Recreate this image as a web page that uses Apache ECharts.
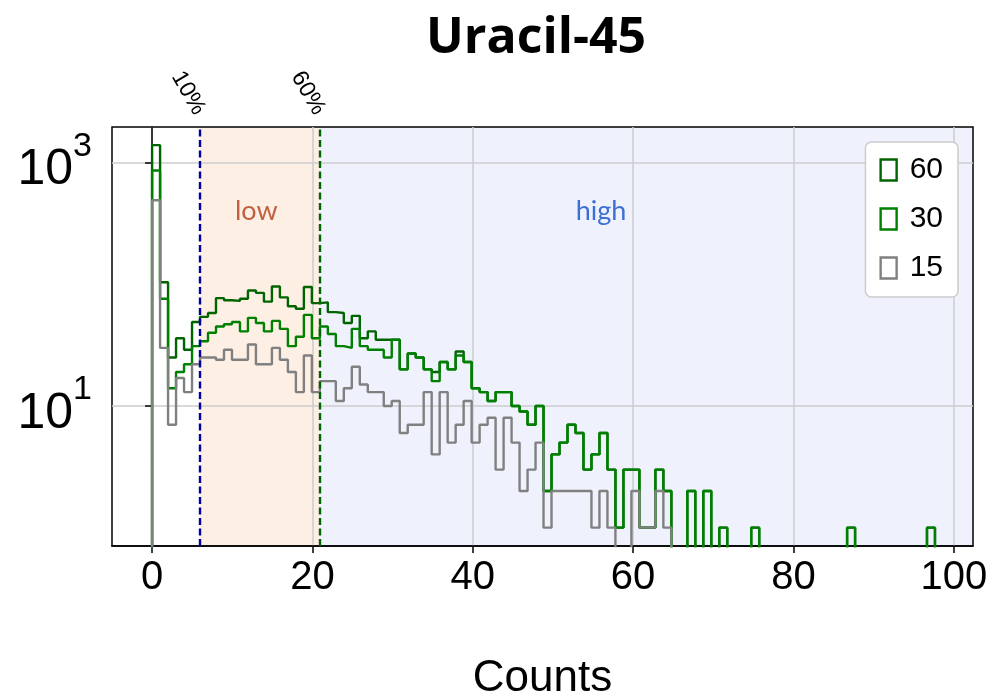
<!DOCTYPE html>
<html lang="en">
<head>
<meta charset="UTF-8">
<title>Uracil-45</title>
<script src="https://cdn.jsdelivr.net/npm/echarts@6/dist/echarts.min.js"></script>
<style>
    body { margin: 0; background: #fff; }
    #chart { width: 996px; height: 696px; }
</style>
</head>
<body>
<div id="chart"></div>
<script>
    // histogram bins start at 0, one count per bin
    const binWidth = 0.9965;
    const seriesNames = ['60', '30', '15'];
    const counts60 = [
        1390, 104, 25, 36, 29, 49, 54, 58, 77, 74,
        73, 76, 89, 85, 72, 96, 78, 66, 63, 95,
        70, 71, 59, 58, 48, 55, 36, 41, 35, 35,
        35, 20, 27, 25, 20, 19, 23, 20, 28, 23,
        14, 13, 11, 13, 13, 10, 9, 7, 10, 2,
        4, 5, 7, 6, 3, 4, 6, 3, 1, 3,
        3, 1, 1, 3, 2, 0, 0, 2, 0, 2,
        0, 1, 0, 0, 0, 1, 0, 0, 0, 0,
        0, 0, 0, 0, 0, 0, 0, 1, 0, 0,
        0, 0, 0, 0, 0, 0, 0, 1
    ];
    const counts30 = [
        860, 76, 14, 19, 22, 31, 34, 40, 45, 47,
        49, 41, 53, 48, 41, 50, 43, 31, 37, 56,
        36, 45, 39, 31, 30, 43, 31, 29, 29, 25,
        35, 20, 27, 25, 20, 16, 23, 20, 26, 23,
        14, 13, 11, 13, 13, 10, 9, 7, 10, 2,
        4, 5, 7, 6, 3, 4, 6, 3, 1, 3,
        3, 1, 1, 3, 2, 0, 0, 2, 0, 2,
        0, 1, 0, 0, 0, 1, 0, 0, 0, 0,
        0, 0, 0, 0, 0, 0, 0, 1, 0, 0,
        0, 0, 0, 0, 0, 0, 0, 1
    ];
    const counts15 = [
        490, 30, 7, 17, 13, 22, 25, 25, 24, 29,
        24, 24, 32, 22, 22, 30, 24, 19, 13, 26,
        13, 16, 16, 11, 14, 21, 15, 13, 13, 10,
        11, 6, 7, 7, 13, 4, 13, 5, 7, 11,
        5, 7, 8, 3, 8, 5, 2, 3, 5, 1,
        2, 2, 2, 2, 2, 1, 2, 1, 0, 0,
        2, 1, 1, 2, 1, 0, 0, 0, 0, 0,
        0, 0, 0, 0, 0, 0, 0, 0, 0, 0,
        0, 0, 0, 0, 0, 0, 0, 0, 0, 0,
        0, 0, 0, 0, 0, 0, 0, 0
    ];
    const thresholds = [5.95, 20.9];
    const thresholdLabels = ['10%', '60%'];
    const zoneNames = ['low', 'high'];
    const zoneLabelX = [13, 56];
    const zoneLabelY = 400;
    const xTicks = [0, 20, 40, 60, 80, 100];
    const yTicks = [10, 1000];

    const X_MIN = -5, X_MAX = 102.4;
    const Y_MIN = 0.707, Y_MAX = 1960;
    const FLOOR = 0.1; // empty bins drop below the axis
    const lineColors = ['#006400', '#008000', '#808080'];
    const thresholdColors = ['#0000a0', '#006400'];
    const zoneFills = ['#fdefe4', '#eff2fd'];
    const zoneText = ['#c0623f', '#3b6fd6'];
    const sans = 'Liberation Sans';

    // step outline like a matplotlib 'step' histogram
    function stepData(counts) {
        const n = counts.length;
        const pts = [[0, FLOOR]];
        counts.forEach((c, i) => pts.push([i * binWidth, Math.max(c, FLOOR)]));
        pts.push([n * binWidth, Math.max(counts[n - 1], FLOOR)]);
        pts.push([n * binWidth, FLOOR]);
        return pts;
    }

    const chart = echarts.init(document.getElementById('chart'));
    const allCounts = [counts60, counts30, counts15];

    const histSeries = seriesNames.map((name, i) => ({
        name: name,
        type: 'line',
        step: 'end',
        showSymbol: false,
        symbol: 'none',
        clip: true,
        color: lineColors[i],
        lineStyle: { color: lineColors[i], width: 2.4 },
        data: stepData(allCounts[i])
    }));

    const decoSeries = {
        name: 'deco',
        type: 'line',
        data: [],
        markArea: {
            silent: true,
            z: -1,
            data: [
                [{ xAxis: thresholds[0], itemStyle: { color: zoneFills[0] } }, { xAxis: thresholds[1] }],
                [{ xAxis: thresholds[1], itemStyle: { color: zoneFills[1] } }, { xAxis: X_MAX }]
            ]
        },
        markLine: {
            silent: true,
            symbol: 'none',
            label: { show: false },
            data: thresholds.map((t, i) => ({
                xAxis: t,
                lineStyle: { color: thresholdColors[i], type: [7, 3.5], width: 2.4 }
            }))
        },
        markPoint: {
            silent: true,
            symbol: 'circle',
            symbolSize: 0,
            data: zoneNames.map((z, i) => ({
                coord: [zoneLabelX[i], zoneLabelY],
                label: {
                    show: true, position: 'inside', formatter: z,
                    color: zoneText[i], fontSize: 27, fontFamily: 'Lato'
                }
            }))
        }
    };

    const option = {
        animation: false,
        backgroundColor: '#fff',
        title: {
            text: 'Uracil-45',
            left: 421,
            top: 9,
            textStyle: { fontFamily: 'Open Sans', fontWeight: 'bold', fontSize: 50, color: '#000' }
        },
        legend: {
            orient: 'vertical',
            right: 38,
            top: 142,
            data: seriesNames.map((n, i) => ({
                name: n,
                icon: 'rect',
                itemStyle: { color: 'rgba(0,0,0,0)', borderColor: lineColors[i], borderWidth: 2.4 }
            })),
            itemWidth: 16,
            itemHeight: 21,
            itemGap: 19,
            backgroundColor: '#fff',
            borderColor: '#cccccc',
            borderWidth: 1.5,
            borderRadius: 6,
            padding: [13, 15, 14, 14],
            textStyle: { fontSize: 30, fontFamily: sans, color: '#000', padding: [0, 0, 0, 8] }
        },
        grid: {
            left: 112, right: 23, top: 127, bottom: 150,
            outerBoundsMode: 'none',
            containLabel: false,
            show: true, borderColor: '#000', borderWidth: 1.5
        },
        xAxis: [{
            type: 'value',
            min: X_MIN,
            max: X_MAX,
            name: 'Counts',
            nameLocation: 'middle',
            nameGap: 111,
            nameTextStyle: { fontSize: 44, fontFamily: sans, color: '#000' },
            axisLine: { show: true, lineStyle: { color: '#000', width: 1.5 } },
            axisTick: { show: true, customValues: xTicks, length: 7, lineStyle: { color: '#000', width: 1.5 } },
            axisLabel: { customValues: xTicks, fontSize: 40, fontFamily: sans, color: '#000', margin: 12 },
            splitLine: { show: true, lineStyle: { color: '#cccccc', width: 1.5 } }
        }, {
            type: 'value',
            position: 'top',
            min: X_MIN,
            max: X_MAX,
            axisLine: { show: false },
            axisTick: { show: false },
            splitLine: { show: false },
            axisLabel: {
                customValues: thresholds,
                formatter: v => {
                    let k = 0;
                    thresholds.forEach((t, i) => { if (Math.abs(t - v) < Math.abs(thresholds[k] - v)) k = i; });
                    return thresholdLabels[k];
                },
                rotate: 60,
                margin: 14,
                fontSize: 23,
                fontFamily: sans,
                color: '#000'
            }
        }],
        yAxis: {
            type: 'log',
            min: Y_MIN,
            max: Y_MAX,
            axisLine: { show: true, lineStyle: { color: '#000', width: 1.5 } },
            axisTick: { show: true, customValues: yTicks, length: 7, lineStyle: { color: '#000', width: 1.5 } },
            axisLabel: {
                customValues: yTicks,
                margin: 20,
                formatter: v => '{b|10}{sup|' + Math.round(Math.log10(v)) + '}',
                rich: {
                    b: { fontSize: 50, fontFamily: sans, color: '#000', verticalAlign: 'bottom', padding: [16, 0, 0, 0] },
                    sup: { fontSize: 34, fontFamily: sans, color: '#000', verticalAlign: 'top' }
                }
            },
            splitLine: { show: true, lineStyle: { color: '#cccccc', width: 1.5 } }
        },
        series: [decoSeries].concat(histSeries)
    };

    chart.setOption(option);
</script>
</body>
</html>
